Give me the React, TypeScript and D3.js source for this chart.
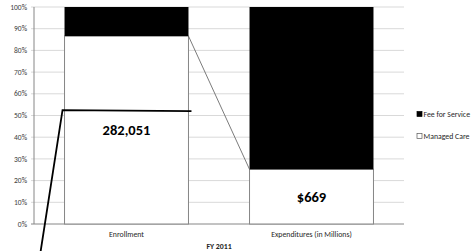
import React from "react";
import * as d3 from "d3";

const categories = ["Enrollment", "Expenditures (in Millions)"];
const managedCare = [86.6, 25.2];
const feeForService = [13.4, 74.8];
const barLabels = ["282,051", "$669"];
const yTicks = [0, 10, 20, 30, 40, 50, 60, 70, 80, 90, 100];
const legendItems = ["Fee for Service", "Managed Care"];
const xTitle = "FY 2011";

const W = 474, H = 251;
const M = { left: 34, right: 404, top: 7, bottom: 224 };
const FONT = "Carlito, Lato, 'Noto Sans', sans-serif";

export default function App() {
  const x = d3.scaleBand<string>().domain(categories).range([M.left, M.right]).paddingInner(0.33).paddingOuter(0.165);
  const y = d3.scaleLinear().domain([0, 100]).range([M.bottom, M.top]);
  const bw = x.bandwidth();
  const x0 = x(categories[0])!;
  const x1 = x(categories[1])!;
  const annY = y(52.5);
  const annLeft = x0 - 2;
  const annRight = x0 + bw + 3;
  return (
    <svg width={W} height={H} style={{ position: "absolute", left: 0, top: 0, background: "#fff" }}>
      {yTicks.map((t) => (
        <g key={t}>
          <line x1={M.left - 3} x2={M.right} y1={y(t)} y2={y(t)} stroke={t === 0 ? "#868686" : "#d9d9d9"} strokeWidth={1} />
          <text x={M.left - 7} y={y(t)} dy="0.35em" textAnchor="end" fontFamily={FONT} fontSize={7.5} fill="#404040">{t}%</text>
        </g>
      ))}
      <line x1={M.left} x2={M.left} y1={M.top} y2={M.bottom} stroke="#868686" />
      {categories.map((c, i) => (
        <g key={c}>
          <rect x={x(c)!} y={y(managedCare[i])} width={bw} height={y(0) - y(managedCare[i])} fill="#fff" stroke="#868686" strokeWidth={1} />
          <rect x={x(c)!} y={y(100)} width={bw} height={y(managedCare[i]) - y(100)} fill="#000" />
          <text x={x(c)! + bw / 2} y={y(managedCare[i] / 2)} dy="0.35em" textAnchor="middle" fontFamily={FONT} fontWeight="bold" fontSize={14.5} fill="#000">{barLabels[i]}</text>
          <text x={x(c)! + bw / 2} y={M.bottom + 10} dy="0.35em" textAnchor="middle" fontFamily={FONT} fontSize={7.8} fill="#262626">{c}</text>
        </g>
      ))}
      <line x1={x0 + bw} y1={y(managedCare[0])} x2={x1} y2={y(managedCare[1])} stroke="#595959" strokeWidth={0.8} />
      <text x={(M.left + M.right) / 2} y={249} textAnchor="middle" fontFamily={FONT} fontWeight="bold" fontSize={7.8} fill="#262626">{xTitle}</text>
      {legendItems.map((l, i) => (
        <g key={l} transform={`translate(417, ${114 + i * 22})`}>
          <rect x={0} y={-2.5} width={5} height={5} fill={i === 0 ? "#000" : "#fff"} stroke={i === 0 ? "#000" : "#595959"} strokeWidth={0.7} />
          <text x={6.5} y={0} dy="0.35em" fontFamily={FONT} fontSize={7.8} fill="#262626">{l}</text>
        </g>
      ))}
      <polyline points={`${annRight},${annY + 1} ${annLeft},${annY} ${annLeft - 22},${H + 1}`} fill="none" stroke="#000" strokeWidth={1.8} />
    </svg>
  );
}
